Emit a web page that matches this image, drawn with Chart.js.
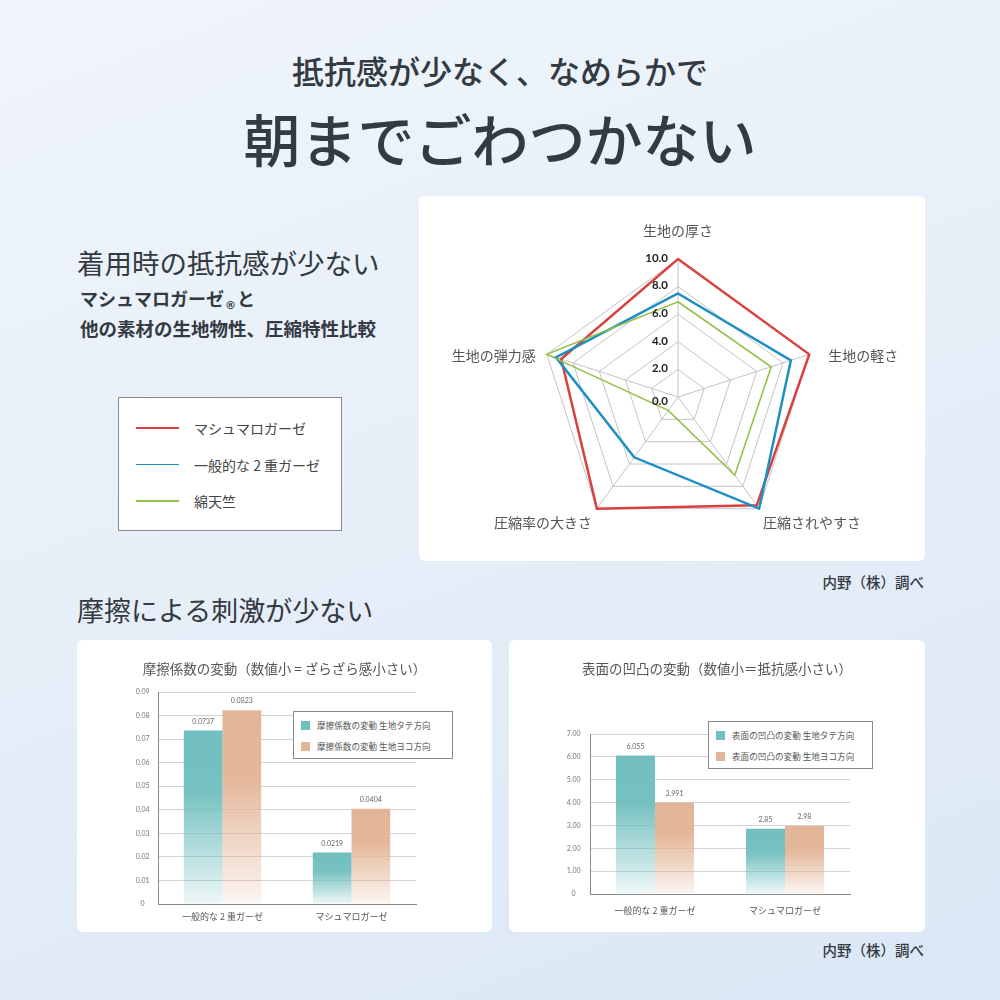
<!DOCTYPE html>
<html lang="ja">
<head>
<meta charset="utf-8">
<title>抵抗感が少なく、なめらかで</title>
<script src="https://cdn.jsdelivr.net/npm/chart.js@4.4.1/dist/chart.umd.min.js"></script>
<style>
  html, body { margin: 0; padding: 0; }
  body {
    width: 1000px; height: 1000px; position: relative; overflow: hidden;
    background: linear-gradient(160deg, #f0f5fb 0%, #e6eef8 50%, #dbe7f5 100%);
    font-family: "Noto Sans CJK JP", "Noto Sans", sans-serif; color: #343a42;
  }
  .txt { position: absolute; white-space: nowrap; }
  .card { position: absolute; background: #fff; border-radius: 6px; }
  .card canvas { position: absolute; left: 0; top: 0; }
  .card-title { position: absolute; left: 0; right: 0; text-align: center; font-size: 13.5px; line-height: 14px; color: #555; }
  .box { position: absolute; background: #fff; border: 1px solid #8a8a8a; box-sizing: border-box; }
  .box .row { position: absolute; white-space: nowrap; color: #555; }
</style>
</head>
<body>

<div class="txt" style="left:0;right:0;text-align:center;top:52px;font-size:32px;line-height:36px;font-weight:500;">抵抗感が少なく、なめらかで</div>
<div class="txt" style="left:0;right:0;text-align:center;top:105px;font-size:57px;line-height:64px;font-weight:500;">朝までごわつかない</div>

<div class="txt" style="left:77px;top:247px;font-size:27.5px;line-height:30px;">着用時の抵抗感が少ない</div>
<div class="txt" style="left:80px;top:287px;font-size:18px;line-height:22px;font-weight:700;">マシュマロガーゼ<span style="font-family:'DejaVu Sans',sans-serif;font-size:11px;font-weight:700;position:relative;top:3px;margin:0 1px;">®</span>と</div>
<div class="txt" style="left:80px;top:317px;font-size:18.5px;line-height:22px;font-weight:700;">他の素材の生地物性、圧縮特性比較</div>

<div class="card" style="left:419px;top:196px;width:506px;height:365px;">
  <canvas id="radar_chart" width="506" height="365"></canvas>
</div>
<div class="box" id="radar_legend" style="left:118px;top:397px;width:224px;height:134px;"></div>

<div class="txt" style="right:76px;top:573px;font-size:14.5px;line-height:18px;font-weight:500;">内野（株）調べ</div>

<div class="txt" style="left:77px;top:595px;font-size:27px;line-height:30px;">摩擦による刺激が少ない</div>

<div class="card" style="left:77px;top:640px;width:415px;height:292px;">
  <canvas id="friction_chart" width="415" height="292"></canvas>
  <div class="card-title" style="top:21px;">摩擦係数の変動（数値小 = ざらざら感小さい）</div>
  <div class="box" id="friction_legend" style="left:216px;top:71px;width:160px;height:48px;"></div>
</div>

<div class="card" style="left:509px;top:640px;width:416px;height:292px;">
  <canvas id="surface_chart" width="416" height="292"></canvas>
  <div class="card-title" style="top:21px;">表面の凹凸の変動（数値小＝抵抗感小さい）</div>
  <div class="box" id="surface_legend" style="left:199px;top:81px;width:165px;height:48px;"></div>
</div>

<div class="txt" style="right:76px;top:941px;font-size:14.5px;line-height:18px;font-weight:500;">内野（株）調べ</div>

<script>
// ---- data ----
var radarAxes = ['生地の厚さ', '生地の軽さ', '圧縮されやすさ', '圧縮率の大きさ', '生地の弾力感'];
var radarTickLabels = ['0.0', '2.0', '4.0', '6.0', '8.0', '10.0'];
var radarSeriesNames = ['マシュマロガーゼ', '一般的な 2 重ガーゼ', '綿天竺'];
var marshmallowValues = [10.0, 10.0, 9.7, 10.0, 8.9];
var doubleGauzeValues = [7.5, 8.6, 10.0, 5.4, 9.3];
var cottonJerseyValues = [6.9, 7.1, 7.0, 1.2, 10.0];

var barCategories = ['一般的な 2 重ガーゼ', 'マシュマロガーゼ'];

var frictionSeriesNames = ['摩擦係数の変動 生地タテ方向', '摩擦係数の変動 生地ヨコ方向'];
var frictionWarp = [0.0737, 0.0219];
var frictionWeft = [0.0823, 0.0404];
var frictionTickLabels = ['0', '0.01', '0.02', '0.03', '0.04', '0.05', '0.06', '0.07', '0.08', '0.09'];

var surfaceSeriesNames = ['表面の凹凸の変動 生地タテ方向', '表面の凹凸の変動 生地ヨコ方向'];
var surfaceWarp = [6.055, 2.85];
var surfaceWeft = [3.991, 2.98];
var surfaceTickLabels = ['0', '1.00', '2.00', '3.00', '4.00', '5.00', '6.00', '7.00'];

// ---- styles ----
var JP_FONT = '"Noto Sans CJK JP", "Noto Sans", sans-serif';
var NUM_FONT = 'Lato, "Noto Sans", sans-serif';
var radarColors = ['#d8413d', '#1f8fc3', '#93c14a'];
var radarWidths = [2.5, 2.5, 1.6];
var TEAL = '114,191,191';
var PEACH = '227,181,151';

// ---- radar chart ----
// tick labels and axis labels are drawn here so they can sit where the original puts them
var radarLabelsPlugin = {
  id: 'radarLabels',
  afterDraw: function(chart) {
    var scale = chart.scales.r;
    var ctx = chart.ctx;
    ctx.save();
    // numbers on the vertical axis
    ctx.font = 'bold 11.5px ' + NUM_FONT;
    ctx.fillStyle = '#222';
    ctx.textAlign = 'right';
    ctx.textBaseline = 'middle';
    scale.ticks.forEach(function(t, i) {
      var d = scale.getDistanceFromCenterForValue(t.value);
      var y = scale.yCenter - d - 1;
      if (i === 0) y = scale.yCenter + 4;
      ctx.fillText(radarTickLabels[i], scale.xCenter - 10, y);
    });
    // axis names
    var offs = [
      { dx: 0, dy: -28, align: 'center' },
      { dx: 19, dy: 1, align: 'left' },
      { dx: 4, dy: 14, align: 'left' },
      { dx: -5, dy: 14, align: 'right' },
      { dx: -11, dy: 1, align: 'right' }
    ];
    ctx.font = '14px ' + JP_FONT;
    ctx.fillStyle = '#555';
    chart.data.labels.forEach(function(label, i) {
      var p = scale.getPointPosition(i, scale.drawingArea);
      ctx.textAlign = offs[i].align;
      ctx.fillText(label, p.x + offs[i].dx, p.y + offs[i].dy);
    });
    ctx.restore();
  }
};

var radarSeries = [marshmallowValues, doubleGauzeValues, cottonJerseyValues];
var radarChart = new Chart(document.getElementById('radar_chart').getContext('2d'), {
  type: 'radar',
  data: {
    labels: radarAxes,
    datasets: radarSeries.map(function(vals, i) {
      return {
        label: radarSeriesNames[i],
        data: vals,
        borderColor: radarColors[i],
        backgroundColor: 'rgba(0,0,0,0)',
        borderWidth: radarWidths[i],
        fill: false,
        pointRadius: 0,
        tension: 0
      };
    }).reverse()
  },
  options: {
    responsive: false,
    animation: false,
    layout: { padding: { left: 121, right: 109, top: 63, bottom: 26 } },
    plugins: { legend: { display: false }, tooltip: { enabled: false } },
    scales: {
      r: {
        min: 0,
        max: 10,
        ticks: { stepSize: 2, display: false },
        pointLabels: { display: false },
        grid: { color: '#c4c4c4', lineWidth: 1 },
        angleLines: { color: '#c4c4c4', lineWidth: 1 }
      }
    }
  },
  plugins: [radarLabelsPlugin]
});

// html legend for the radar, built from the chart's datasets
(function() {
  var box = document.getElementById('radar_legend');
  var sets = radarChart.data.datasets.slice().reverse();
  sets.forEach(function(ds, i) {
    var row = document.createElement('div');
    row.className = 'row';
    row.style.cssText = 'left:17px;top:' + (21 + i * 36.5) + 'px;height:18px;font-size:14px;line-height:18px;color:#444;';
    row.innerHTML = '<span style="position:absolute;left:0;top:8px;width:43px;height:1.6px;background:' + ds.borderColor + ';"></span>' +
      '<span style="position:absolute;left:58px;top:0;">' + ds.label + '</span>';
    box.appendChild(row);
  });
})();

// ---- bar charts ----
function barFill(rgb) {
  // each bar fades from its top down to almost white at the base
  return function(c) {
    var chart = c.chart;
    if (c.type !== 'data' || !chart.chartArea) return 'rgb(' + rgb + ')';
    var ys = chart.scales.y;
    var top = ys.getPixelForValue(c.raw);
    var base = ys.getPixelForValue(0);
    if (!isFinite(top) || !isFinite(base) || base - top < 1) return 'rgb(' + rgb + ')';
    var g = chart.ctx.createLinearGradient(0, top, 0, base);
    g.addColorStop(0, 'rgba(' + rgb + ',1)');
    g.addColorStop(0.35, 'rgba(' + rgb + ',0.97)');
    g.addColorStop(1, 'rgba(' + rgb + ',0.12)');
    return g;
  };
}

var valueLabelsPlugin = {
  id: 'valueLabels',
  afterDatasetsDraw: function(chart) {
    var ctx = chart.ctx;
    ctx.save();
    ctx.font = '7px ' + NUM_FONT;
    ctx.fillStyle = '#666';
    ctx.textAlign = 'center';
    ctx.textBaseline = 'middle';
    chart.data.datasets.forEach(function(ds, di) {
      chart.getDatasetMeta(di).data.forEach(function(bar, i) {
        ctx.fillText(String(ds.data[i]), bar.x, bar.y - 9);
      });
    });
    ctx.restore();
  }
};

function makeBarChart(canvasId, legendId, names, warp, weft, maxVal, step, tickLabels, pad, tickPad, xPad) {
  var chart = new Chart(document.getElementById(canvasId).getContext('2d'), {
    type: 'bar',
    data: {
      labels: barCategories,
      datasets: [
        { label: names[0], data: warp, backgroundColor: barFill(TEAL), legendColor: 'rgb(' + TEAL + ')' },
        { label: names[1], data: weft, backgroundColor: barFill(PEACH), legendColor: 'rgb(' + PEACH + ')' }
      ]
    },
    options: {
      responsive: false,
      animation: false,
      layout: { padding: pad },
      datasets: { bar: { categoryPercentage: 0.6, barPercentage: 1.0, borderWidth: 0 } },
      plugins: { legend: { display: false }, tooltip: { enabled: false } },
      scales: {
        x: {
          grid: { display: false, drawTicks: false },
          border: { display: true, color: '#8a8a8a', width: 1 },
          ticks: { padding: xPad, color: '#555', font: { family: JP_FONT, size: 9 } },
          afterFit: function(s) { s.height = 28; }
        },
        y: {
          min: 0,
          max: maxVal,
          grid: { color: '#d2d2d2', drawTicks: false },
          border: { display: true, color: '#8a8a8a', width: 1 },
          ticks: {
            stepSize: step,
            crossAlign: 'center',
            padding: tickPad,
            color: '#777',
            font: { family: NUM_FONT, size: 7 },
            callback: function(v, i) { return tickLabels[i]; }
          },
          afterFit: function(s) { s.width = 40; }
        }
      }
    },
    plugins: [valueLabelsPlugin]
  });

  var box = document.getElementById(legendId);
  chart.data.datasets.forEach(function(ds, i) {
    var row = document.createElement('div');
    row.className = 'row';
    row.style.cssText = 'left:7px;top:' + (8 + i * 20.5) + 'px;height:11px;font-size:8.6px;line-height:11px;';
    row.innerHTML = '<span style="position:absolute;left:0;top:1px;width:9px;height:9px;background:' + ds.legendColor + ';"></span>' +
      '<span style="position:absolute;left:16px;top:0;">' + ds.label + '</span>';
    box.appendChild(row);
  });
  return chart;
}

var frictionChart = makeBarChart('friction_chart', 'friction_legend', frictionSeriesNames,
  frictionWarp, frictionWeft, 0.09, 0.01, frictionTickLabels,
  { left: 41, right: 76, top: 52, bottom: 0 }, 8.5, 7.5);

var surfaceChart = makeBarChart('surface_chart', 'surface_legend', surfaceSeriesNames,
  surfaceWarp, surfaceWeft, 7, 1, surfaceTickLabels,
  { left: 41, right: 75, top: 94, bottom: 10 }, 9.5, 11);
</script>
</body>
</html>
